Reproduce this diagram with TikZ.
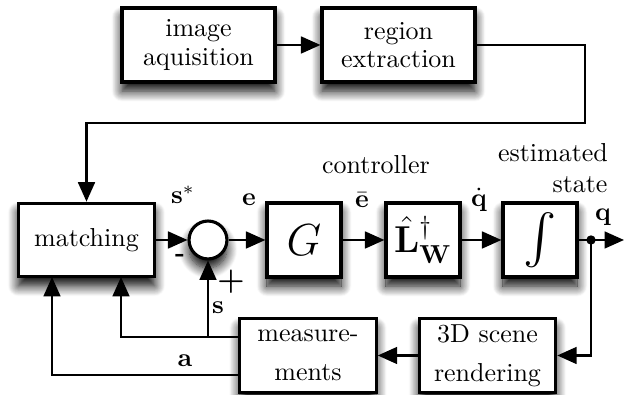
\documentclass[tikz,border=0pt]{standalone}
\usepackage{amsmath}
\usepackage{graphicx}
\usetikzlibrary{arrows.meta,shadows.blur}
\begin{document}
\begin{tikzpicture}[x=0.385pt,y=-0.385pt,
  shd/.style={blur shadow={shadow xshift=0pt,shadow yshift=-3.5pt,shadow blur radius=4pt,shadow opacity=100,shadow blur steps=12}},
  blk/.style={draw,line width=1.2pt,fill=white,inner sep=0pt,align=center,shd},
  wbox/.style={blk,minimum width=58.9pt,minimum height=28.5pt},
  mbox/.style={blk,minimum width=52.5pt,minimum height=28.3pt},
  sbox/.style={blk,minimum width=28.5pt,minimum height=28.5pt,font=\Large},
  arr/.style={-{Triangle[length=7.5pt,width=6.5pt]},line width=0.8pt},
  lbl/.style={inner sep=0pt}]
\useasboundingbox (0,0) rectangle (629,395);
% nodes
\node[wbox] (acq) at (198.5,45) {image\\[-1pt]aquisition};
\node[wbox] (reg) at (398.5,45) {region\\[-1pt]extraction};
\node[mbox] (match) at (86.5,240) {matching};
\node[draw,line width=1.2pt,fill=white,circle,minimum size=14.6pt,inner sep=0pt,shd] (sum) at (208,240) {};
\node[sbox] (G) at (304,240) {\fontsize{16}{16}\selectfont$G$};
\node[sbox] (L) at (423,240) {$\hat{\mathbf{L}}_{\mathbf{W}}^{\dagger}$};
\node[sbox] (int) at (540,240) {\scalebox{1.6}{\fontsize{12.5}{12.5}\selectfont$\int$}};
\node[mbox] (meas) at (308,355.5) {measure-\\[3pt]ments};
\node[mbox] (ren) at (487.5,355.5) {3D scene\\[3pt]rendering};
% coordinates
\coordinate (t1) at (585,123);
\coordinate (split) at (591,240);
\coordinate (out) at (624,240);
\coordinate (m1) at (240,337);
\coordinate (m2) at (240,375);
\coordinate (sj) at (208,337);
\coordinate (mb1) at (121,277);
\coordinate (mb2) at (52,277);
% connectors
\draw[arr] (acq) -- (reg);
\draw[arr] (reg.east) -| (t1) -| (match.north);
\draw[arr] (match) -- (sum);
\draw[arr] (sum) -- (G);
\draw[arr] (G) -- (L);
\draw[arr] (L) -- (int);
\draw[arr] (int) -- (out);
\fill (split) circle (1.8pt);
\draw[arr] (split) |- (ren.east);
\draw[arr] (ren) -- (meas);
\draw[arr] (m1) -| (mb1);
\draw[arr] (sj) -- (sum.south);
\draw[arr] (m2) -| (mb2);
% labels
\node[lbl] (ls) at (183,195) {$\mathbf{s}^*$};
\node[lbl] (le) at (249,200) {$\mathbf{e}$};
\node[lbl] (leb) at (362,200) {$\bar{\mathbf{e}}$};
\node[lbl] (lqd) at (479,200) {$\dot{\mathbf{q}}$};
\node[lbl] (lq) at (603,217) {$\mathbf{q}$};
\node[lbl] (lctrl) at (376,165) {controller};
\node[lbl] (lest) at (553,153) {estimated};
\node[lbl,anchor=east] (lst) at (608,185) {state};
\node[lbl] (lm) at (180,258) {\textbf{-}};
\node[lbl] (lp) at (231,282) {\large\textbf{+}};
\node[lbl] (lsv) at (218,308) {$\mathbf{s}$};
\node[lbl] (la) at (185,361) {$\mathbf{a}$};
\end{tikzpicture}
\end{document}
